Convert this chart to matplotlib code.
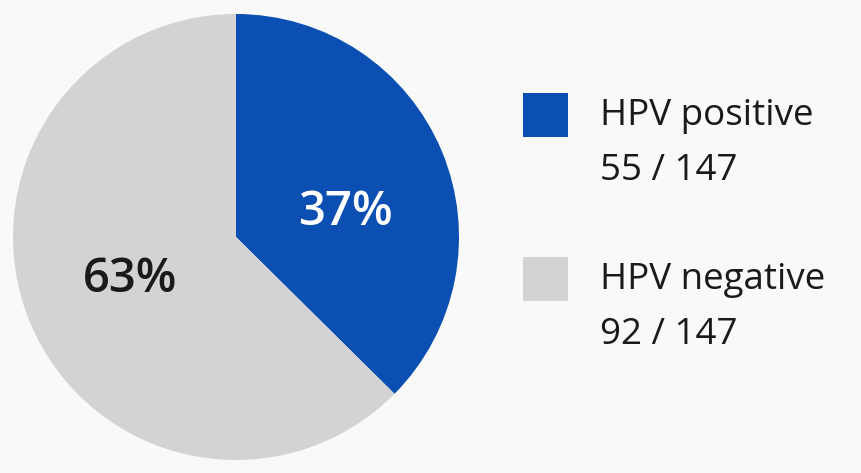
import matplotlib.pyplot as plt

# Data
categories = ['HPV positive', 'HPV negative']
counts = [55, 92]
total = 147
pct_labels = ['37%', '63%']
colors = ['#0b4fb3', '#d4d3d3']

plt.rcParams['font.family'] = ['Open Sans', 'DejaVu Sans']

W, H = 861, 473
fig = plt.figure(figsize=(W / 100, H / 100), dpi=100, facecolor='#f9f9f9')

# pie axes placed in pixel terms: centre (236, 237), radius 223
cx, cy, r = 236, 237, 223
ax = fig.add_axes([(cx - r) / W, (H - cy - r) / H, 2 * r / W, 2 * r / H])
ax.set_facecolor('none')
ax.pie(counts, colors=colors, startangle=90, counterclock=False,
       radius=1.0, wedgeprops=dict(linewidth=0))
ax.set_xlim(-1, 1)
ax.set_ylim(-1, 1)
ax.set_aspect('equal')
ax.axis('off')

# percentage labels
ax.text(0.49, 0.11, pct_labels[0], color='white', fontsize=34,
        fontweight='semibold', ha='center', va='center')
ax.text(-0.475, -0.19, pct_labels[1], color='#1a1a1a', fontsize=34,
        fontweight='semibold', ha='center', va='center')

# legend (drawn by hand)
sq_x = 523 / W
sq_w = 45 / W
sq_h = 44 / H
legend_tops = [93, 257]
for i, name in enumerate(categories):
    top = legend_tops[i]
    fig.patches.append(plt.Rectangle((sq_x, (H - top - 44) / H), sq_w, sq_h,
                                     transform=fig.transFigure,
                                     facecolor=colors[i], edgecolor='none'))
    fig.text(600 / W, (H - top - 32) / H, name, fontsize=26.5,
             fontweight='medium', color='#1a1a1a', ha='left', va='baseline')
    fig.text(600 / W, (H - top - 87) / H, f'{counts[i]} / {total}',
             fontsize=26.5, fontweight='medium', color='#1a1a1a',
             ha='left', va='baseline')

fig.savefig('out.png', dpi=100, facecolor=fig.get_facecolor())
